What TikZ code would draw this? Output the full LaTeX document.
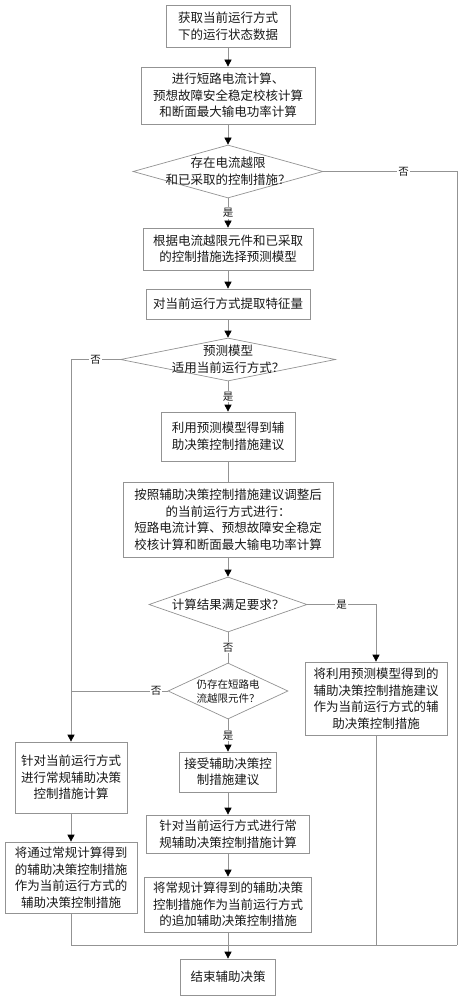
\documentclass[tikz,border=0pt]{standalone}
\usepackage{fontspec}
\setmainfont{Noto Sans CJK SC}
\usetikzlibrary{arrows.meta,shapes.geometric}
\tikzset{
  box/.style={draw=gray!85, line width=0.7pt, rectangle, inner sep=2pt, align=center,
    font=\fontsize{12.5}{16.5}\selectfont, text=black!90},
  dec/.style={draw=gray!85, line width=0.7pt, diamond, inner sep=0pt},
  dtext/.style={align=center, inner sep=0pt, font=\fontsize{12.5}{16.5}\selectfont, text=black!90},
  lab/.style={fill=white, inner sep=1pt, font=\fontsize{10.5}{12}\selectfont, text=black!90},
  conn/.style={draw=gray!85, line width=0.7pt},
  arr/.style={conn, -{Triangle[length=7pt,width=7pt,color=black]}}
}
\begin{document}
\begin{tikzpicture}[x=1pt,y=-1pt]
\useasboundingbox (0,0) rectangle (462,1000);
\fill[white] (0,0) rectangle (462,1000);
% nodes
\node[box, minimum width=124pt, minimum height=42pt] (b1) at (228,26) {获取当前运行方式\\下的运行状态数据};
\node[box, minimum width=174pt, minimum height=57pt] (b2) at (228,95.5) {进行短路电流计算、\\预想故障安全稳定校核计算\\和断面最大输电功率计算};
\node[dec, minimum width=190pt, minimum height=53pt] (d1) at (228,171.5) {};
\node[dtext] (d1t) at (228,171.5) {存在电流越限\\和已采取的控制措施？};
\node[box, minimum width=170pt, minimum height=42pt] (b3) at (228,249) {根据电流越限元件和已采取\\的控制措施选择预测模型};
\node[box, minimum width=164pt, minimum height=30pt] (b4) at (228,304) {对当前运行方式提取特征量};
\node[dec, minimum width=215pt, minimum height=43pt] (d2) at (228,359.5) {};
\node[dtext] (d2t) at (228,359.5) {预测模型\\适用当前运行方式？};
\node[box, minimum width=134pt, minimum height=49pt] (b5) at (228,436.5) {利用预测模型得到辅\\助决策控制措施建议};
\node[box, minimum width=210pt, minimum height=75pt] (b6) at (228,519.5) {按照辅助决策控制措施建议调整后\\的当前运行方式进行：\\短路电流计算、预想故障安全稳定\\校核计算和断面最大输电功率计算};
\node[dec, minimum width=158pt, minimum height=55pt] (d3) at (228,604.5) {};
\node[dtext] (d3t) at (228,604.5) {计算结果满足要求？};
\node[dec, minimum width=120pt, minimum height=56pt] (d4) at (228,691) {};
\node[dtext, font=\fontsize{10.5}{14}\selectfont] (d4t) at (228,691) {仍存在短路电\\流越限元件？};
\node[box, minimum width=142pt, minimum height=73pt] (R) at (376,698.5) {将利用预测模型得到的\\辅助决策控制措施建议\\作为当前运行方式的辅\\助决策控制措施};
\node[box, minimum width=97pt, minimum height=40pt] (b7) at (228,772) {接受辅助决策控\\制措施建议};
\node[box, minimum width=163pt, minimum height=38pt] (b8) at (228,834) {针对当前运行方式进行常\\规辅助决策控制措施计算};
\node[box, minimum width=167pt, minimum height=55pt] (b9) at (228,904.5) {将常规计算得到的辅助决策\\控制措施作为当前运行方式\\的追加辅助决策控制措施};
\node[box, minimum width=112pt, minimum height=71pt] (L1) at (71,777.5) {针对当前运行方式\\进行常规辅助决策\\控制措施计算};
\node[box, minimum width=132pt, minimum height=71pt] (L2) at (71,877.5) {将通过常规计算得到\\的辅助决策控制措施\\作为当前运行方式的\\辅助决策控制措施};
\node[box, minimum width=95pt, minimum height=36pt] (end) at (228,977) {结束辅助决策};
% coordinates
\coordinate (c1) at (457,171.5);
\coordinate (c2) at (457,945);
\coordinate (c4) at (71,359.5);
\coordinate (c5) at (376,604.5);
\coordinate (c6) at (71,691);
% connectors
\draw[arr] (b1) -- (b2);
\draw[arr] (b2) -- (d1);
\draw[arr] (d1) -- node[lab] (y1) {是} (b3);
\draw[conn] (d1.east) -- node[lab, pos=0.6] (n1) {否} (c1) -- (c2);
\draw[arr] (b3) -- (b4);
\draw[arr] (b4) -- (d2);
\draw[arr] (d2) -- node[lab] (y2) {是} (b5);
\draw[arr] (d2.west) -- node[lab] (n2) {否} (c4) -- (L1);
\draw[conn] (b5) -- (b6);
\draw[arr] (b6) -- (d3);
\draw[arr] (d3.east) -- node[lab] (y3) {是} (c5) -- (R);
\draw[conn] (d3) -- node[lab] (n3) {否} (d4);
\draw[conn] (d4.west) -- node[lab, pos=0.12] (n4) {否} (c6);
\draw[arr] (d4) -- node[lab] (y4) {是} (b7);
\draw[arr] (b7) -- (b8);
\draw[arr] (b8) -- (b9);
\draw[arr] (b9) -- (end);
\draw[arr] (L1) -- (L2);
\draw[conn] (L2) |- (c2);
\draw[conn] (R) -- (R.south |- c2);
\end{tikzpicture}
\end{document}
